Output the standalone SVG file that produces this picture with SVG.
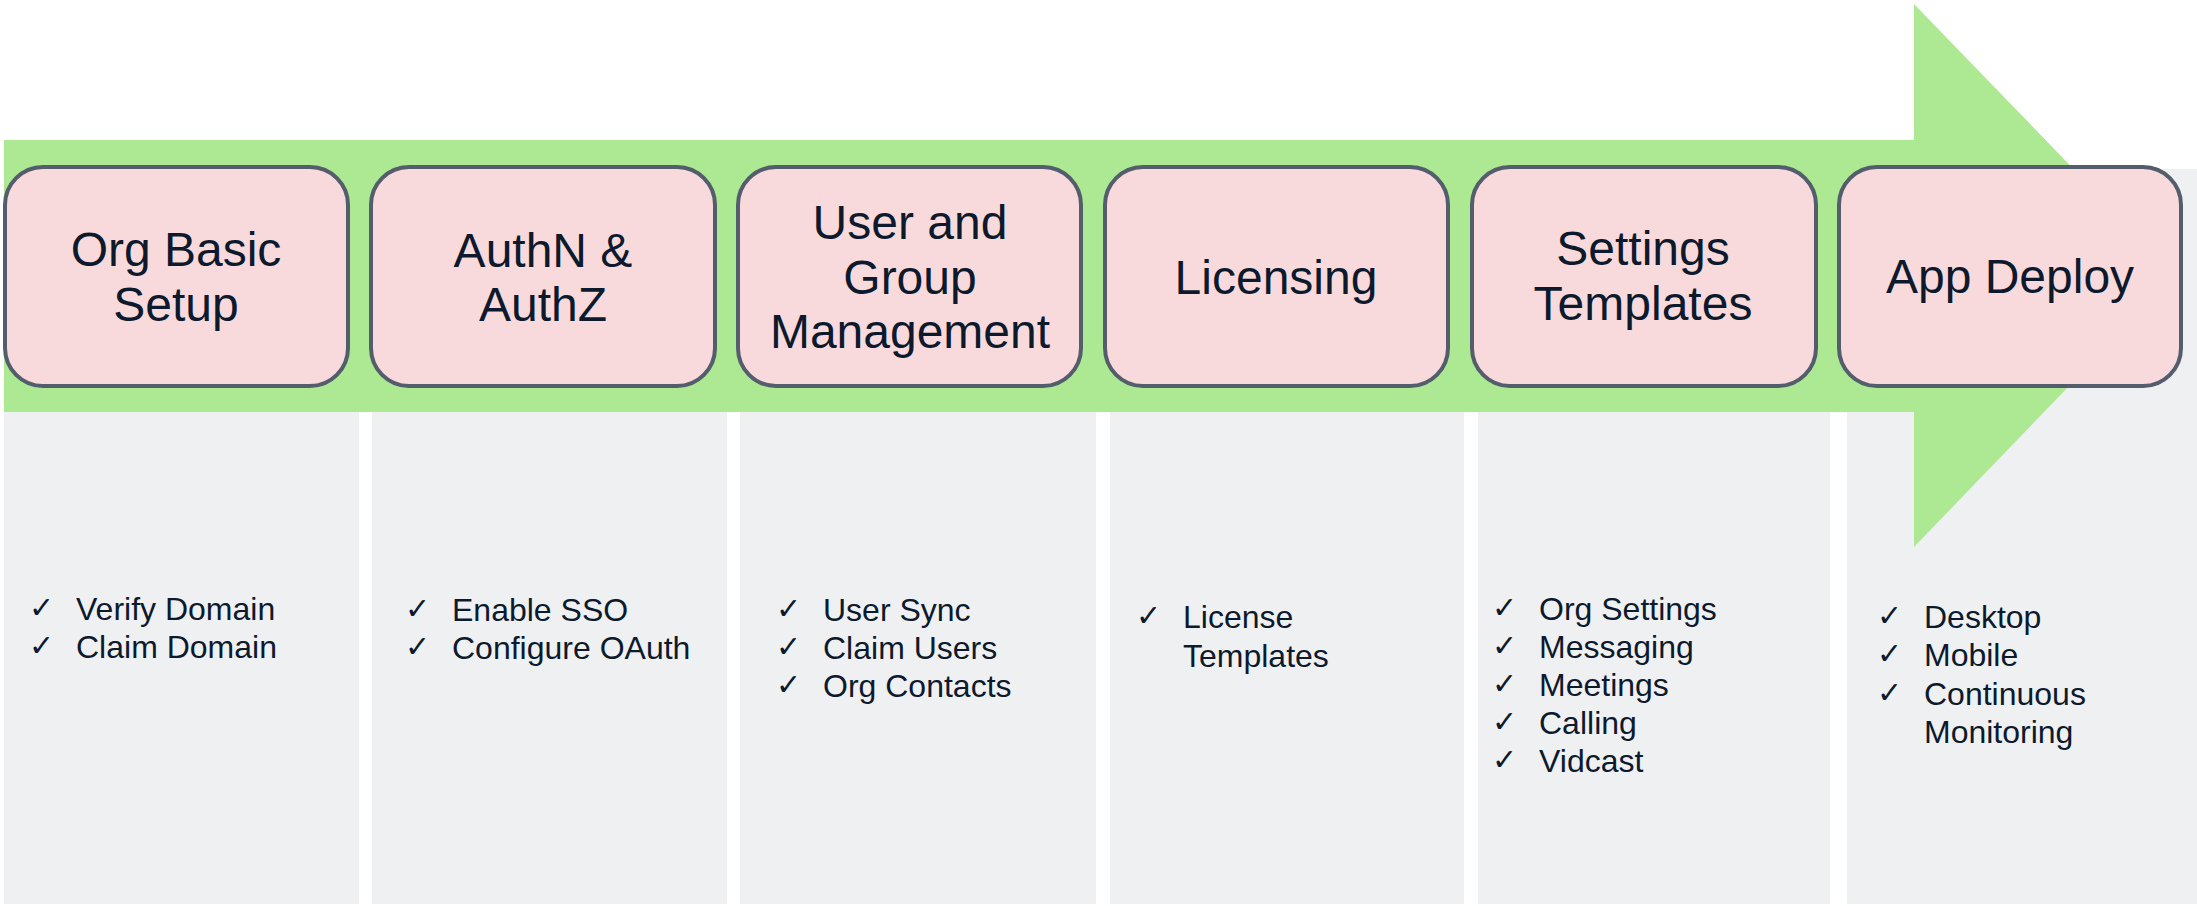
<svg xmlns="http://www.w3.org/2000/svg" width="2197" height="906" viewBox="0 0 2197 906">
<style>
.panel{fill:#EFF0F2}
.box{fill:#F9DADC;stroke:#535D6C;stroke-width:4}
.title{font-family:"Liberation Sans",Arial,sans-serif;font-size:48px;fill:#0D1A2D;text-anchor:middle}
.item{font-family:"Liberation Sans",Arial,sans-serif;font-size:32px;fill:#0D1A2D}
.chk{font-family:"DejaVu Sans",sans-serif;font-size:30px;fill:#0D1A2D}
</style>
<rect width="2197" height="906" fill="#FFFFFF"/>
<g id="panels">
<rect class="panel" x="4" y="412" width="355" height="492"/>
<rect class="panel" x="372" y="412" width="355" height="492"/>
<rect class="panel" x="740" y="412" width="356" height="492"/>
<rect class="panel" x="1110" y="412" width="354" height="492"/>
<rect class="panel" x="1478" y="412" width="352" height="492"/>
<rect class="panel" x="1847" y="169" width="350" height="735"/>
</g>
<g id="timeline-arrow">
<polygon points="4,140 1914,140 1914,4 2176,275 1914,547 1914,412 4,412" fill="#ADE892"/>
</g>
<g id="node-org-basic-setup">
<rect class="box" x="5" y="167" width="343" height="219" rx="38"/>
<text class="title" x="176" y="266">Org Basic</text>
<text class="title" x="176" y="321">Setup</text>
<text class="chk" x="29" y="618">✓</text><text class="item" x="76" y="620">Verify Domain</text>
<text class="chk" x="29" y="656">✓</text><text class="item" x="76" y="658">Claim Domain</text>
</g>
<g id="node-authn-authz">
<rect class="box" x="371" y="167" width="344" height="219" rx="38"/>
<text class="title" x="543" y="267">AuthN &amp;</text>
<text class="title" x="543" y="321">AuthZ</text>
<text class="chk" x="405" y="619">✓</text><text class="item" x="452" y="621">Enable SSO</text>
<text class="chk" x="405" y="657">✓</text><text class="item" x="452" y="659">Configure OAuth</text>
</g>
<g id="node-user-group-management">
<rect class="box" x="738" y="167" width="343" height="219" rx="38"/>
<text class="title" x="910" y="239">User and</text>
<text class="title" x="910" y="294">Group</text>
<text class="title" x="910" y="348">Management</text>
<text class="chk" x="776" y="619">✓</text><text class="item" x="823" y="621">User Sync</text>
<text class="chk" x="776" y="657">✓</text><text class="item" x="823" y="659">Claim Users</text>
<text class="chk" x="776" y="695">✓</text><text class="item" x="823" y="697">Org Contacts</text>
</g>
<g id="node-licensing">
<rect class="box" x="1105" y="167" width="343" height="219" rx="38"/>
<text class="title" x="1276" y="294">Licensing</text>
<text class="chk" x="1136" y="626">✓</text><text class="item" x="1183" y="628">License</text>
<text class="item" x="1183" y="667">Templates</text>
</g>
<g id="node-settings-templates">
<rect class="box" x="1472" y="167" width="344" height="219" rx="38"/>
<text class="title" x="1643" y="265">Settings</text>
<text class="title" x="1643" y="320">Templates</text>
<text class="chk" x="1492" y="618">✓</text><text class="item" x="1539" y="620">Org Settings</text>
<text class="chk" x="1492" y="656">✓</text><text class="item" x="1539" y="658">Messaging</text>
<text class="chk" x="1492" y="694">✓</text><text class="item" x="1539" y="696">Meetings</text>
<text class="chk" x="1492" y="732">✓</text><text class="item" x="1539" y="734">Calling</text>
<text class="chk" x="1492" y="770">✓</text><text class="item" x="1539" y="772">Vidcast</text>
</g>
<g id="node-app-deploy">
<rect class="box" x="1839" y="167" width="342" height="219" rx="38"/>
<text class="title" x="2010" y="293">App Deploy</text>
<text class="chk" x="1877" y="626">✓</text><text class="item" x="1924" y="628">Desktop</text>
<text class="chk" x="1877" y="664">✓</text><text class="item" x="1924" y="666">Mobile</text>
<text class="chk" x="1877" y="703">✓</text><text class="item" x="1924" y="705">Continuous</text>
<text class="item" x="1924" y="743">Monitoring</text>
</g>
</svg>
